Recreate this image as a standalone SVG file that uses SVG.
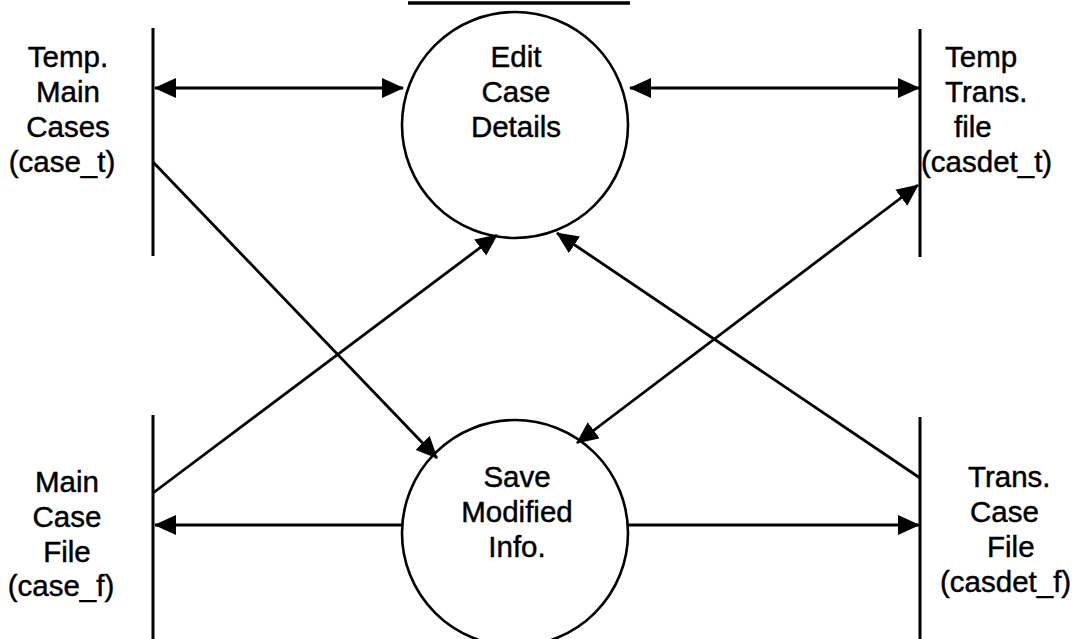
<svg xmlns="http://www.w3.org/2000/svg" width="1078" height="639" viewBox="0 0 1078 639">
<style>
.bg{fill:#fff}
.store{stroke:#000;stroke-width:3;fill:none}
.proc{stroke:#000;stroke-width:2.6;fill:none}
.flow{stroke:#000;stroke-width:2.8;fill:none}
text{font-family:"Liberation Sans",Arial,sans-serif;font-size:29.5px;fill:#000;stroke:#000;stroke-width:0.45}
.c{text-anchor:middle}
</style>
<defs>
<marker id="ah" markerUnits="userSpaceOnUse" markerWidth="23" markerHeight="21" refX="21" refY="10" orient="auto-start-reverse" viewBox="0 0 23 21">
<path d="M0,0 L22,10 L0,20 z" fill="#000"/>
</marker>
</defs>
<rect class="bg" x="0" y="0" width="1078" height="639"/>
<line x1="408" y1="3" x2="630" y2="3" stroke="#000" stroke-width="3.5"/>
<g id="connectors">
<line class="flow" x1="155" y1="88" x2="403" y2="88" marker-start="url(#ah)" marker-end="url(#ah)"/>
<line class="flow" x1="630" y1="88" x2="919" y2="88" marker-start="url(#ah)" marker-end="url(#ah)"/>
<line class="flow" x1="153" y1="162" x2="437" y2="458" marker-end="url(#ah)"/>
<line class="flow" x1="153" y1="493" x2="497" y2="235" marker-end="url(#ah)"/>
<line class="flow" x1="577" y1="443" x2="918" y2="185" marker-start="url(#ah)" marker-end="url(#ah)"/>
<line class="flow" x1="920" y1="478" x2="557" y2="233" marker-end="url(#ah)"/>
<line class="flow" x1="402" y1="525" x2="155" y2="525" marker-end="url(#ah)"/>
<line class="flow" x1="628" y1="525" x2="919" y2="525" marker-end="url(#ah)"/>
</g>
<g id="edit-case-details">
<circle class="proc" cx="515" cy="125" r="113"/>
<text class="c" x="516" y="67">Edit</text>
<text class="c" x="516" y="102">Case</text>
<text class="c" x="516" y="137">Details</text>
</g>
<g id="save-modified-info">
<circle class="proc" cx="515" cy="533" r="113"/>
<text class="c" x="517" y="487">Save</text>
<text class="c" x="517" y="522">Modified</text>
<text class="c" x="517" y="557">Info.</text>
</g>
<g id="temp-main-cases">
<line class="store" x1="153" y1="28" x2="153" y2="256"/>
<text class="c" x="68" y="67">Temp.</text>
<text class="c" x="68" y="102">Main</text>
<text class="c" x="68" y="137">Cases</text>
<text class="c" x="62" y="172">(case_t)</text>
</g>
<g id="temp-trans-file">
<line class="store" x1="920" y1="29" x2="920" y2="257"/>
<text x="945" y="67">Temp</text>
<text x="945" y="102">Trans.</text>
<text x="954" y="137">file</text>
<text x="921" y="172">(casdet_t)</text>
</g>
<g id="main-case-file">
<line class="store" x1="153" y1="415" x2="153" y2="639"/>
<text class="c" x="67" y="492">Main</text>
<text class="c" x="67" y="527">Case</text>
<text class="c" x="67" y="562">File</text>
<text class="c" x="61" y="596">(case_f)</text>
</g>
<g id="trans-case-file">
<line class="store" x1="920" y1="417" x2="920" y2="639"/>
<text x="968" y="487">Trans.</text>
<text x="970" y="522">Case</text>
<text x="987" y="557">File</text>
<text x="940" y="592">(casdet_f)</text>
</g>
</svg>
